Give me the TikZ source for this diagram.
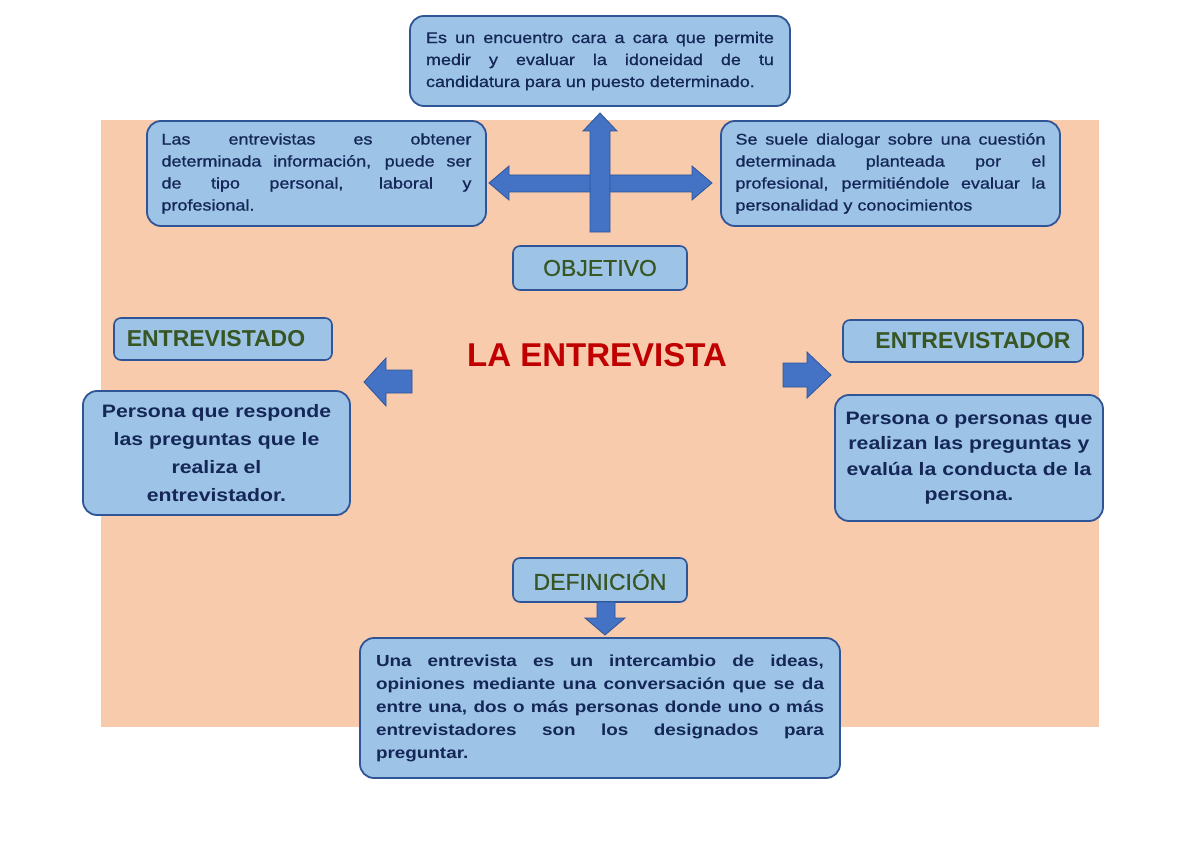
\documentclass[tikz,border=0pt]{standalone}
\usepackage{fontspec}
\setmainfont{Liberation Sans}
\newfontfamily\bodyf[FakeStretch=1.18]{Liberation Sans}
\newfontfamily\bodyfmed[FakeStretch=1.16,FakeBold=0.9]{Liberation Sans}
\newfontfamily\labf[FakeBold=0.6]{Liberation Sans}
\definecolor{peach}{HTML}{F8CBAD}
\definecolor{boxc}{HTML}{9DC3E6}
\definecolor{bordc}{HTML}{2F5597}
\definecolor{arrowc}{HTML}{4472C4}
\definecolor{navy}{HTML}{142757}
\definecolor{labgreen}{HTML}{375623}
\definecolor{titred}{HTML}{C00000}
\newcommand{\nohyph}{\hyphenpenalty=10000\exhyphenpenalty=10000\tolerance=10000\emergencystretch=20pt}
\begin{document}
\begin{tikzpicture}[x=1pt,y=-1pt,
  bigbox/.style={draw=bordc, line width=1.8pt, fill=boxc, rounded corners=14pt, inner sep=0pt, text=navy},
  labbox/.style={draw=bordc, line width=1.6pt, fill=boxc, rounded corners=7pt, inner sep=0pt, text=labgreen},
  topfont/.style={font=\bodyfmed\fontsize{15.5}{22}\selectfont\nohyph, align=justify},
  sidefont/.style={font=\bodyf\bfseries\fontsize{18}{28}\selectfont, align=center},
  botfont/.style={font=\bodyf\bfseries\fontsize{16}{23}\selectfont\nohyph, align=justify},
  blockarrow/.style={fill=arrowc, draw=bordc, line width=0.8pt, line join=miter}]
\useasboundingbox (0,0) rectangle (1200,848);
\fill[white] (0,0) rectangle (1200,848);
\fill[peach] (101,120) rectangle (1099,727);

% cross arrow (objective)
\draw[blockarrow] (489,183) -- (509,166) -- (509,175) -- (692,175) -- (692,166) -- (712,183) -- (692,200) -- (692,192) -- (509,192) -- (509,200) -- cycle;
\draw[blockarrow] (590,232) -- (590,131) -- (583,131) -- (600,113) -- (617,131) -- (610,131) -- (610,232) -- cycle;

% top boxes
\node[bigbox, topfont, minimum width=380, minimum height=90, text width=348] (meet) at (600,61)
  {Es un encuentro cara a cara que permite\linebreak medir y evaluar la idoneidad de tu\linebreak candidatura para un puesto determinado.};
\node[bigbox, topfont, minimum width=339, minimum height=105, text width=310] (info) at (316.5,173.5)
  {Las entrevistas es obtener\linebreak determinada información, puede ser\linebreak de tipo personal, laboral y\linebreak profesional.};
\node[bigbox, topfont, minimum width=339, minimum height=105, text width=310] (dialog) at (890.5,173.5)
  {Se suele dialogar sobre una cuestión\linebreak determinada planteada por el\linebreak profesional, permitiéndole evaluar la\linebreak personalidad y conocimientos};

% labels
\node[labbox, font=\labf\fontsize{23}{26}\selectfont, minimum width=174, minimum height=44] (obj) at (600,268) {OBJETIVO};
\node[labbox, font=\labf\fontsize{23}{26}\selectfont, minimum width=174, minimum height=44] (defi) at (600,580) {DEFINICIÓN};
\node[labbox, font=\bfseries\fontsize{23}{26}\selectfont, minimum width=218, minimum height=42] (ado) at (223,339) {ENTREVISTADO\hspace*{14pt}};
\node[labbox, font=\bfseries\fontsize{23}{26}\selectfont, minimum width=240, minimum height=42] (ador) at (963,341) {\hspace*{20pt}ENTREVISTADOR};

% title
\node[text=titred, font=\bfseries\fontsize{33}{36}\selectfont, inner sep=0pt] (title) at (597,355) {LA ENTREVISTA};

% side arrows
\draw[blockarrow] (412,370) -- (386,370) -- (386,358) -- (364,382) -- (386,406) -- (386,393) -- (412,393) -- cycle;
\draw[blockarrow] (783,363) -- (807,363) -- (807,352) -- (831,375) -- (807,398) -- (807,387) -- (783,387) -- cycle;

% side boxes
\node[bigbox, sidefont, minimum width=267, minimum height=124, text width=250] (resp) at (216.5,453)
  {Persona que responde\\ las preguntas que le\\ realiza el\\ entrevistador.};
\node[bigbox, sidefont, font=\bodyf\bfseries\fontsize{18}{25.5}\selectfont, minimum width=268, minimum height=126, text width=250] (ask) at (969,458)
  {Persona o personas que\\ realizan las preguntas y\\ evalúa la conducta de la\\ persona.};

% definition arrow and box
\draw[blockarrow] (597,602) -- (615,602) -- (615,618) -- (625,618) -- (605,635) -- (585,618) -- (597,618) -- cycle;
\node[bigbox, botfont, minimum width=480, minimum height=140, text width=448] (defbox) at (600,708)
  {Una entrevista es un intercambio de ideas,\linebreak opiniones mediante una conversación que se da\linebreak entre una, dos o más personas donde uno o más\linebreak entrevistadores son los designados para\linebreak preguntar.};
\end{tikzpicture}
\end{document}
